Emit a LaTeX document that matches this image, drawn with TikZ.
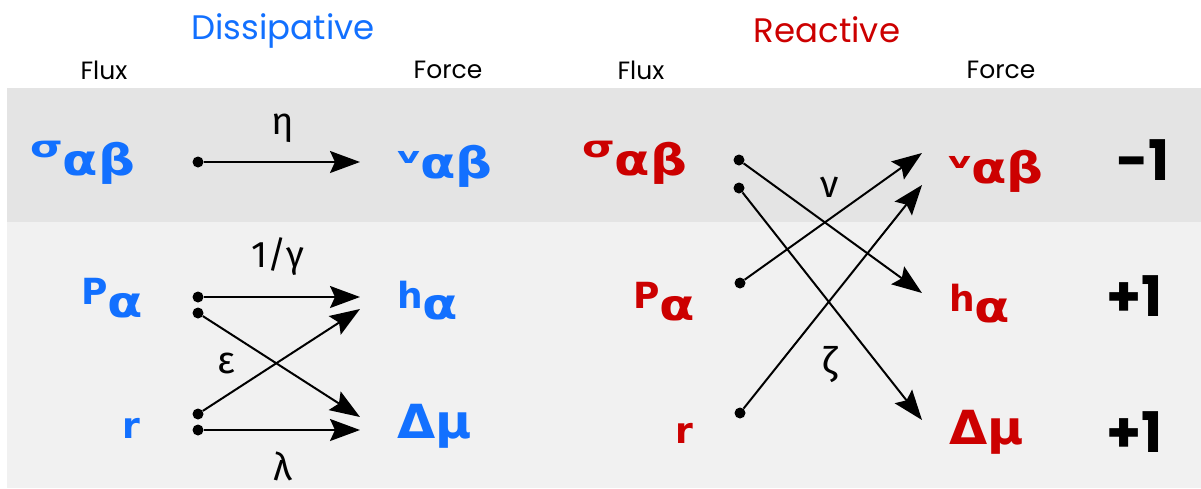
\documentclass[tikz,border=0pt]{standalone}
\usepackage{graphicx}
\usepackage{fontspec}
\setmainfont{Fira Sans}
\newfontfamily\headfont{Poppins}
\newfontfamily\symfont{DejaVu Sans}
\usetikzlibrary{arrows.meta}
\definecolor{dissblue}{HTML}{1270FF}
\definecolor{reactred}{HTML}{CC0000}
\definecolor{bandtop}{HTML}{E4E4E4}
\definecolor{bandlow}{HTML}{F1F1F1}
\newcommand{\fsym}[5]{\raisebox{#4}{\scalebox{#5}[1]{\fontsize{#3}{#3}\selectfont #1}}\scalebox{1.2}[1]{\fontsize{43}{43}\selectfont #2}}

\begin{document}
\begin{tikzpicture}[
  x=1pt, y=-1pt,
  sym/.style={inner sep=0pt, anchor=base west, font=\symfont\bfseries},
  diss/.style={sym, text=dissblue},
  react/.style={sym, text=reactred},
  coef/.style={inner sep=0pt, font=\fontsize{38}{38}\selectfont},
  head/.style={inner sep=0pt, font=\headfont\fontsize{25}{25}\selectfont},
  title/.style={inner sep=0pt, font=\headfont\fontsize{34}{34}\selectfont},
  dot/.style={circle, fill=black, inner sep=0pt, minimum size=11pt},
  arr/.style={-{Stealth[length=30pt, width=22pt, inset=5pt]}, line width=2pt},
  sign/.style={sym, font=\headfont\bfseries\fontsize{56}{56}\selectfont},
]
\useasboundingbox (0,0) rectangle (1201,488);

%% bands
\fill[bandtop] (7,88) rectangle (1201,222);
\fill[bandlow] (7,222) rectangle (1201,488);

%% headings
\node[title, text=dissblue] (dtitle) at (283,31) {Dissipative};
\node[title, text=reactred] (rtitle) at (827,30) {Reactive};
\node[head] (lflux)  at (104,70)  {Flux};
\node[head] (lforce) at (448,70)  {Force};
\node[head] (rflux)  at (641,70)  {Flux};
\node[head] (rforce) at (1001,70) {Force};

%% Dissipative side
\node[diss] (lsig) at (30,175)  {\fsym{σ}{αβ}{30}{18pt}{1.4}};
\node[diss] (lvel) at (397,178) {\fsym{v}{αβ}{22}{15pt}{1.6}};
\node[diss] (lP)   at (81,317)  {\fsym{P}{α}{36}{13pt}{1}};
\node[diss] (lh)   at (397,319) {\fsym{h}{α}{36}{11pt}{1}};
\node[diss, font=\symfont\bfseries\fontsize{36}{36}\selectfont] (lr) at (122,438) {r};
\node[diss, font=\symfont\bfseries\fontsize{47}{47}\selectfont] (lmu) at (397,438) {\scalebox{1.05}[1]{Δμ}};

\node[dot] (ld1) at (198,162) {};
\node[dot] (ld2) at (198,297) {};
\node[dot] (ld3) at (198,313) {};
\node[dot] (ld4) at (198,414) {};
\node[dot] (ld5) at (198,430) {};
\coordinate (lt1) at (360,162);
\coordinate (lt2) at (360,297);
\coordinate (lt3) at (360,417);
\coordinate (lt4) at (360,309);
\coordinate (lt5) at (360,430);

\draw[arr] (ld1) -- (lt1);
\draw[arr] (ld2) -- (lt2);
\draw[arr] (ld3) -- (lt3);
\draw[arr] (ld4) -- (lt4);
\draw[arr] (ld5) -- (lt5);

\node[coef] (eta)  at (283,128) {η};
\node[coef, font=\fontsize{37}{37}\selectfont] (gam) at (278,257) {1/γ};
\node[coef] (eps)  at (226,363) {ε};
\node[coef] (lam)  at (283,466) {λ};

%% Reactive side
\node[react] (rsig) at (582,175) {\fsym{σ}{αβ}{30}{18pt}{1.4}};
\node[react] (rvel) at (948,183) {\fsym{v}{αβ}{22}{15pt}{1.6}};
\node[react] (rP)   at (633,320) {\fsym{P}{α}{36}{12pt}{1}};
\node[react] (rh)   at (949,322) {\fsym{h}{α}{36}{11pt}{1}};
\node[react, font=\symfont\bfseries\fontsize{36}{36}\selectfont] (rr) at (675,443) {r};
\node[react, font=\symfont\bfseries\fontsize{47}{47}\selectfont] (rmu) at (949,444) {\scalebox{1.05}[1]{Δμ}};

\node[dot] (rd1) at (739,160) {};
\node[dot] (rd2) at (739,188) {};
\node[dot] (rd3) at (740,283) {};
\node[dot] (rd4) at (740,413) {};
\coordinate (rt1) at (922,293);
\coordinate (rt2) at (922,420);
\coordinate (rt3) at (922,153);
\coordinate (rt4) at (922,185);

\draw[arr] (rd1) -- (rt1);
\draw[arr] (rd2) -- (rt2);
\draw[arr] (rd3) -- (rt3);
\draw[arr] (rd4) -- (rt4);

\node[coef] (nu)   at (830,187) {ν};
\node[coef] (zeta) at (830,365) {ζ};

%% signs
\node[sign] (s1) at (1116,180) {-1};
\node[sign] (s2) at (1106,316) {+1};
\node[sign] (s3) at (1106,452) {+1};

\end{tikzpicture}
\end{document}
